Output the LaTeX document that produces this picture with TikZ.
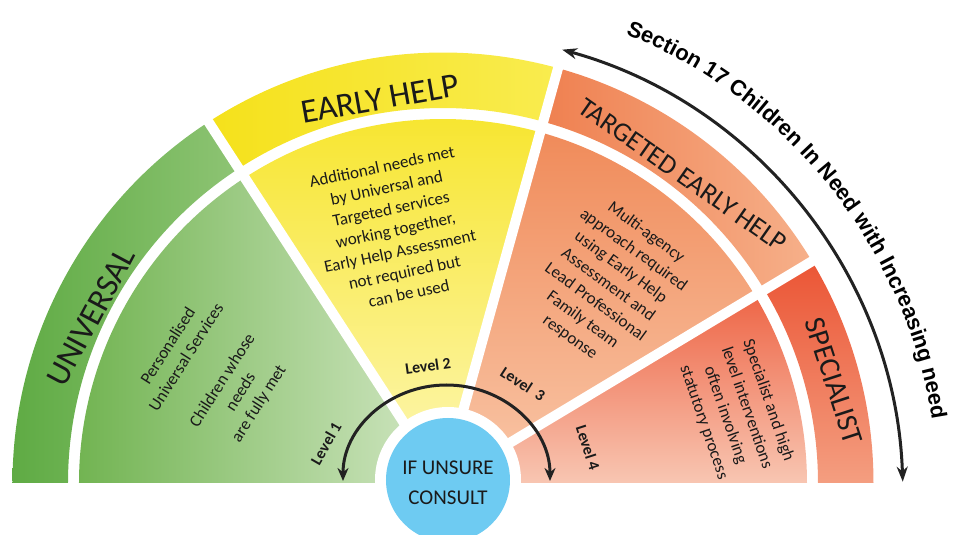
\documentclass[tikz,border=0pt]{standalone}
\usepackage{fontspec}
\setmainfont{Carlito}
\newfontfamily\secfont{Liberation Sans}
\usetikzlibrary{arrows.meta,decorations.text}
\definecolor{uniOa}{HTML}{5FAB44}
\definecolor{uniOb}{HTML}{8EC474}
\definecolor{uniIa}{HTML}{72B452}
\definecolor{uniIb}{HTML}{D2E7C4}
\definecolor{earOa}{HTML}{F5E11B}
\definecolor{earOb}{HTML}{F9EC4F}
\definecolor{earIa}{HTML}{F7E52C}
\definecolor{earIb}{HTML}{FDF7B6}
\definecolor{tarOa}{HTML}{EF8050}
\definecolor{tarOb}{HTML}{F6B08A}
\definecolor{tarIa}{HTML}{F08B5A}
\definecolor{tarIb}{HTML}{F9C7A8}
\definecolor{speOa}{HTML}{EB5535}
\definecolor{speOb}{HTML}{F49E80}
\definecolor{speIa}{HTML}{EE6647}
\definecolor{speIb}{HTML}{F8C6B2}
\definecolor{consult}{HTML}{6ECBF2}
\definecolor{ink}{HTML}{1A1A1A}
\definecolor{arr}{HTML}{222222}
\begin{document}
\begin{tikzpicture}[x=1pt,y=1pt,
  hd/.style={text=ink},
  body/.style={text=ink, align=center, font=\fontsize{17}{21.6}\selectfont},
  lvl/.style={text=ink, font=\bfseries\fontsize{16}{16}\selectfont},
  gap/.style={white, line width=10pt},
]
\useasboundingbox (-443,-52) rectangle (511,483);
% outer band
\shade[left color=uniOa, right color=uniOb]
  (180:430.5pt) arc[start angle=180, end angle=123, radius=430.5pt] -- (123:375pt) arc[start angle=123, end angle=180, radius=375pt] -- cycle;
\shade[left color=earOa, right color=earOb]
  (123:430.5pt) arc[start angle=123, end angle=74.5, radius=430.5pt] -- (74.5:375pt) arc[start angle=74.5, end angle=123, radius=375pt] -- cycle;
\shade[left color=tarOa, right color=tarOb]
  (74.5:430.5pt) arc[start angle=74.5, end angle=31, radius=430.5pt] -- (31:375pt) arc[start angle=31, end angle=74.5, radius=375pt] -- cycle;
\shade[top color=speOa, bottom color=speOb]
  (31:430.5pt) arc[start angle=31, end angle=0, radius=430.5pt] -- (0:375pt) arc[start angle=0, end angle=31, radius=375pt] -- cycle;
% inner band
\shade[left color=uniIa, right color=uniIb]
  (0,0) -- (180:364pt) arc[start angle=180, end angle=123, radius=364pt] -- cycle;
\shade[top color=earIa, bottom color=earIb]
  (0,0) -- (123:364pt) arc[start angle=123, end angle=74.5, radius=364pt] -- cycle;
\shade[top color=tarIa, bottom color=tarIb]
  (0,0) -- (74.5:364pt) arc[start angle=74.5, end angle=31, radius=364pt] -- cycle;
\shade[top color=speIa, bottom color=speIb]
  (0,0) -- (31:364pt) arc[start angle=31, end angle=0, radius=364pt] -- cycle;
% gaps
\draw[gap] (0,0) -- (123:440pt);
\draw[gap] (0,0) -- (74.5:440pt);
\draw[gap] (0,0) -- (31:440pt);
% consult circle
\fill[white] (5,3) circle[radius=73pt];
\node[circle, fill=consult, minimum size=124pt, inner sep=0pt] (cc) at (5,3) {};
\node[text=ink, align=center, font=\fontsize{21}{30}\selectfont] (cons) at (5,0) {IF UNSURE\\CONSULT};
% level arrow
\coordinate (la) at (-100,2);
\coordinate (lb) at (107,2);
\draw[arr, line width=3pt, {Stealth[length=13pt,width=11pt]}-{Stealth[length=13pt,width=11pt]}]
  (la) arc[start angle=180, end angle=0, x radius=103.5pt, y radius=96pt];
% outer arrow
\coordinate (sa) at ([shift={(-4,-14)}]74.6:464pt);
\draw[arr, line width=3pt, {Stealth[length=15pt,width=11pt]}-{Stealth[length=15pt,width=11pt]}]
  (sa) arc[start angle=74.6, end angle=1.9, radius=464pt];
\coordinate (ta) at ([shift={(-4,-14)}]78.5:499pt);
\path[decorate, decoration={text along path, text align=center,
  text={|\secfont\bfseries\fontsize{22}{22}\selectfont|Section 17 Children In Need with Increasing need}}]
  (ta) arc[start angle=78.5, end angle=-1.5, radius=499pt];
% headings
\node[hd, rotate=62, font=\fontsize{33}{33}\selectfont] (uni) at (-352,166) {UNIVERSAL};
\node[hd, rotate=10, font=\fontsize{34}{34}\selectfont] (ear) at (-63,384) {EARLY HELP};
\node[hd, rotate=-35, font=\fontsize{27}{27}\selectfont] (tar) at (240,308) {TARGETED EARLY HELP};
\node[hd, rotate=-72, font=\fontsize{29.5}{29.5}\selectfont] (spe) at (391,102) {SPECIALIST};
% bodies
\node[body, rotate=57.5] (unib) at (-229,108) {Personalised\\Universal Services\\[21pt]Children whose\\needs\\are fully met};
\node[body, rotate=12] (earb) at (-47.5,253) {Additional needs met\\by Universal and\\Targeted services\\working together,\\Early Help Assessment\\not required but\\can be used};
\node[body, rotate=-36] (tarb) at (165,198) {Multi-agency\\approach required\\using Early Help\\Assessment and\\Lead Professional\\Family team\\response};
\node[body, rotate=-71, font=\fontsize{17}{22.7}\selectfont] (speb) at (293,71.5) {Specialist and high\\level interventions\\often involving\\statutory process};
% levels
\node[lvl, rotate=60] (lv1) at (-117,39.5) {Level 1};
\node[lvl, rotate=8] (lv2) at (-15,117) {Level 2};
\node[lvl, rotate=-33] (lv3) at (80,99) {Level\ \ 3};
\node[lvl, rotate=-72] (lv4) at (145,35) {Level 4};
\end{tikzpicture}
\end{document}
